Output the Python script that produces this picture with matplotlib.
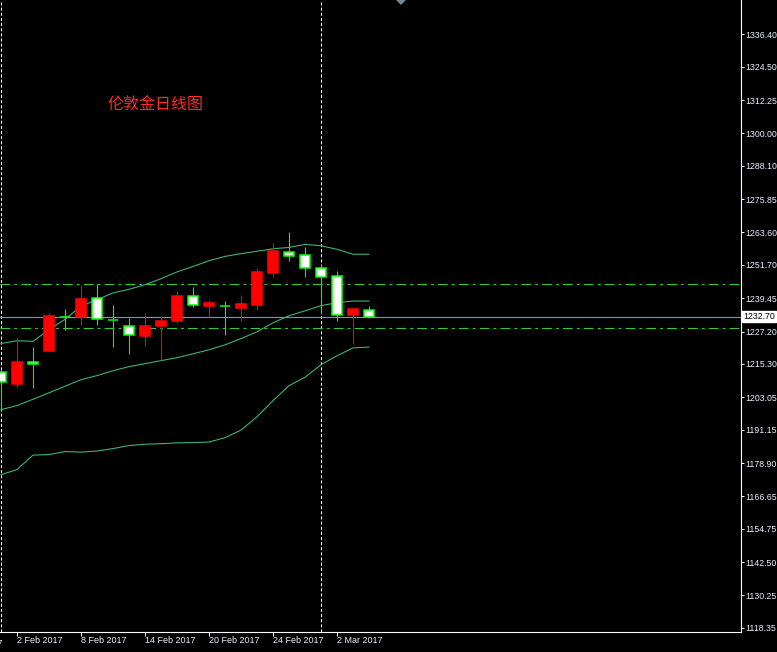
import numpy as np
import matplotlib
matplotlib.use('Agg')
import matplotlib.pyplot as plt
from matplotlib.patches import Polygon

plt.rcParams['font.family'] = ['Liberation Sans', 'DejaVu Sans']
plt.rcParams['lines.scale_dashes'] = False

# daily candles, 1 Feb 2017 .. 6 Mar 2017
days = ['1 Feb', '2 Feb', '3 Feb', '6 Feb', '7 Feb', '8 Feb', '9 Feb', '10 Feb',
        '13 Feb', '14 Feb', '15 Feb', '16 Feb', '17 Feb', '20 Feb', '21 Feb',
        '22 Feb', '23 Feb', '24 Feb', '27 Feb', '28 Feb', '1 Mar', '2 Mar',
        '3 Mar', '6 Mar']
opens = [1212.5, 1208.1, 1216.0, 1219.9, 1232.7, 1232.7, 1239.5, 1231.4,
         1229.4, 1225.4, 1229.1, 1230.9, 1240.2, 1236.4, 1236.7, 1236.0,
         1237.0, 1248.8, 1256.4, 1255.3, 1250.5, 1247.7, 1233.1, 1235.1]
highs = [1213.0, 1224.8, 1221.4, 1234.1, 1235.5, 1244.4, 1244.6, 1237.0,
         1232.3, 1234.1, 1232.9, 1242.2, 1243.6, 1238.9, 1238.5, 1240.7,
         1250.5, 1259.8, 1263.8, 1258.3, 1252.1, 1249.5, 1235.9, 1236.7]
lows = [1198.5, 1207.0, 1206.3, 1219.6, 1227.6, 1229.7, 1229.7, 1221.4,
        1218.8, 1221.7, 1216.6, 1230.5, 1236.3, 1232.4, 1226.0, 1230.9,
        1235.2, 1247.3, 1253.2, 1247.3, 1233.5, 1230.9, 1222.8, 1232.0]
closes = [1208.5, 1216.1, 1215.3, 1233.0, 1232.7, 1239.2, 1231.8, 1231.4,
          1225.9, 1229.2, 1231.0, 1240.3, 1236.9, 1237.7, 1236.7, 1237.4,
          1249.1, 1256.9, 1254.9, 1250.4, 1247.2, 1233.1, 1235.6, 1232.7]

# bollinger bands
bb_upper = [1222.8, 1223.8, 1223.6, 1227.9, 1231.7, 1236.5, 1238.9, 1241.4,
            1242.7, 1244.4, 1246.6, 1249.1, 1251.1, 1253.2, 1254.8, 1255.8,
            1256.7, 1257.6, 1258.1, 1259.2, 1258.7, 1257.4, 1255.6, 1255.6]
bb_mid = [1198.5, 1200.0, 1202.3, 1204.7, 1207.1, 1209.5, 1211.0, 1212.8,
          1214.3, 1215.4, 1216.5, 1217.6, 1219.0, 1220.5, 1222.3, 1224.6,
          1227.1, 1230.4, 1233.0, 1234.8, 1236.7, 1237.8, 1238.4, 1238.4]
bb_lower = [1174.6, 1176.5, 1181.8, 1182.0, 1183.1, 1182.9, 1183.3, 1184.2,
            1185.3, 1185.8, 1186.0, 1186.3, 1186.4, 1186.6, 1188.2, 1191.0,
            1195.9, 1201.8, 1207.3, 1210.4, 1215.0, 1218.3, 1221.2, 1221.5]

levels = [1244.6, 1228.5]
bid = 1232.70
separators = [0, 20]

price_ticks = [1336.40, 1324.50, 1312.25, 1300.00, 1288.10, 1275.85, 1263.60,
               1251.70, 1239.45, 1227.20, 1215.30, 1203.05, 1191.15, 1178.90,
               1166.65, 1154.75, 1142.50, 1130.25, 1118.35]
date_ticks = [1, 5, 9, 13, 17, 21]
date_labels = ['2 Feb 2017', '8 Feb 2017', '14 Feb 2017', '20 Feb 2017',
               '24 Feb 2017', '2 Mar 2017']

W, H = 777, 652
fig = plt.figure(figsize=(W / 100, H / 100), dpi=100, facecolor='black')
ax = fig.add_axes([0, 20.5 / H, 740.5 / W, 631.5 / H])
ax.set_facecolor('black')

px = 1 / 16.0  # candle spacing is 16 px
ax.set_xlim(-px, -px + 740.5 / 16.0)
ax.set_ylim(1117.0, 1348.99)

x = np.arange(len(days))
up_col, dn_col = '#ff0000', '#00ff00'
txt_col = '#e8f0ff'

# separators, levels, bid line
for s in separators:
    ax.axvline(s, color='white', lw=0.75, ls=(0, (2.2, 1.5)), zorder=1)
for lv in levels:
    ax.axhline(lv, color='#32cd32', lw=0.8, ls=(0, (7, 3, 2, 3)), zorder=1)
ax.axhline(bid, color='#8494a8', lw=0.8, zorder=1)

# bands
for band in (bb_upper, bb_mid, bb_lower):
    ax.plot(x, band, color='#3cb371', lw=0.8, zorder=2)

# candles
bw = 0.6
for i in x:
    o, h, l, c = opens[i], highs[i], lows[i], closes[i]
    if abs(c - o) < 0.05:
        ax.vlines(i, l, h, color=dn_col, lw=0.8, zorder=3)
        ax.hlines(o, i - 0.32, i + 0.32, color=dn_col, lw=1.1, zorder=4)
    elif c > o:
        ax.vlines(i, l, h, color=up_col, lw=0.8, zorder=3)
        ax.bar(i, c - o, bottom=o, width=bw, color=up_col, edgecolor=up_col,
               lw=1.1, zorder=4)
    else:
        ax.vlines(i, l, h, color=dn_col, lw=0.8, zorder=3)
        ax.bar(i, o - c, bottom=c, width=bw, color='white', edgecolor=dn_col,
               lw=1.1, zorder=4)

# axes styling
for side in ('left', 'top'):
    ax.spines[side].set_visible(False)
for side in ('right', 'bottom'):
    ax.spines[side].set_color('white')
    ax.spines[side].set_linewidth(0.8)

ax.yaxis.tick_right()
ax.set_yticks(price_ticks)
ax.set_yticklabels(['%.2f' % v for v in price_ticks])
ax.tick_params(axis='y', colors='white', labelcolor=txt_col, length=2.5,
               width=0.7, labelsize=6.3, pad=0.8)
ax.set_xticks(date_ticks)
ax.set_xticklabels(date_labels, ha='left')
ax.tick_params(axis='x', colors='white', labelcolor=txt_col, length=3,
               width=0.7, labelsize=6.5, pad=0.5)

# partly hidden label left of the view
ax.text(-3, -0.012, '27 Jan 2017', transform=ax.get_xaxis_transform(),
        ha='left', va='top', color=txt_col, fontsize=6.5, clip_on=False)

# bid price box
ax.text(1.0 + 3 / 740.5, bid, '%.2f' % bid, transform=ax.get_yaxis_transform(),
        ha='left', va='center', color='black', fontsize=6.3, clip_on=False,
        bbox=dict(boxstyle='square,pad=0.12', fc='white', ec='white'))

# shift marker
tri = Polygon([(396 / 740.5, 1.0), (406 / 740.5, 1.0), (401 / 740.5, 1 - 5 / 631.5)],
              closed=True, fc='#708898', ec='none', transform=ax.transAxes,
              clip_on=False, zorder=5)
ax.add_patch(tri)

ax.text(107 / 740.5, 1 - 105 / 631.5, '伦敦金日线图', transform=ax.transAxes,
        ha='left', va='center', color='#ff2a2a', fontsize=11.5,
        family=['Noto Sans CJK SC', 'DejaVu Sans'])

fig.savefig('out.png', dpi=100, facecolor='black')
